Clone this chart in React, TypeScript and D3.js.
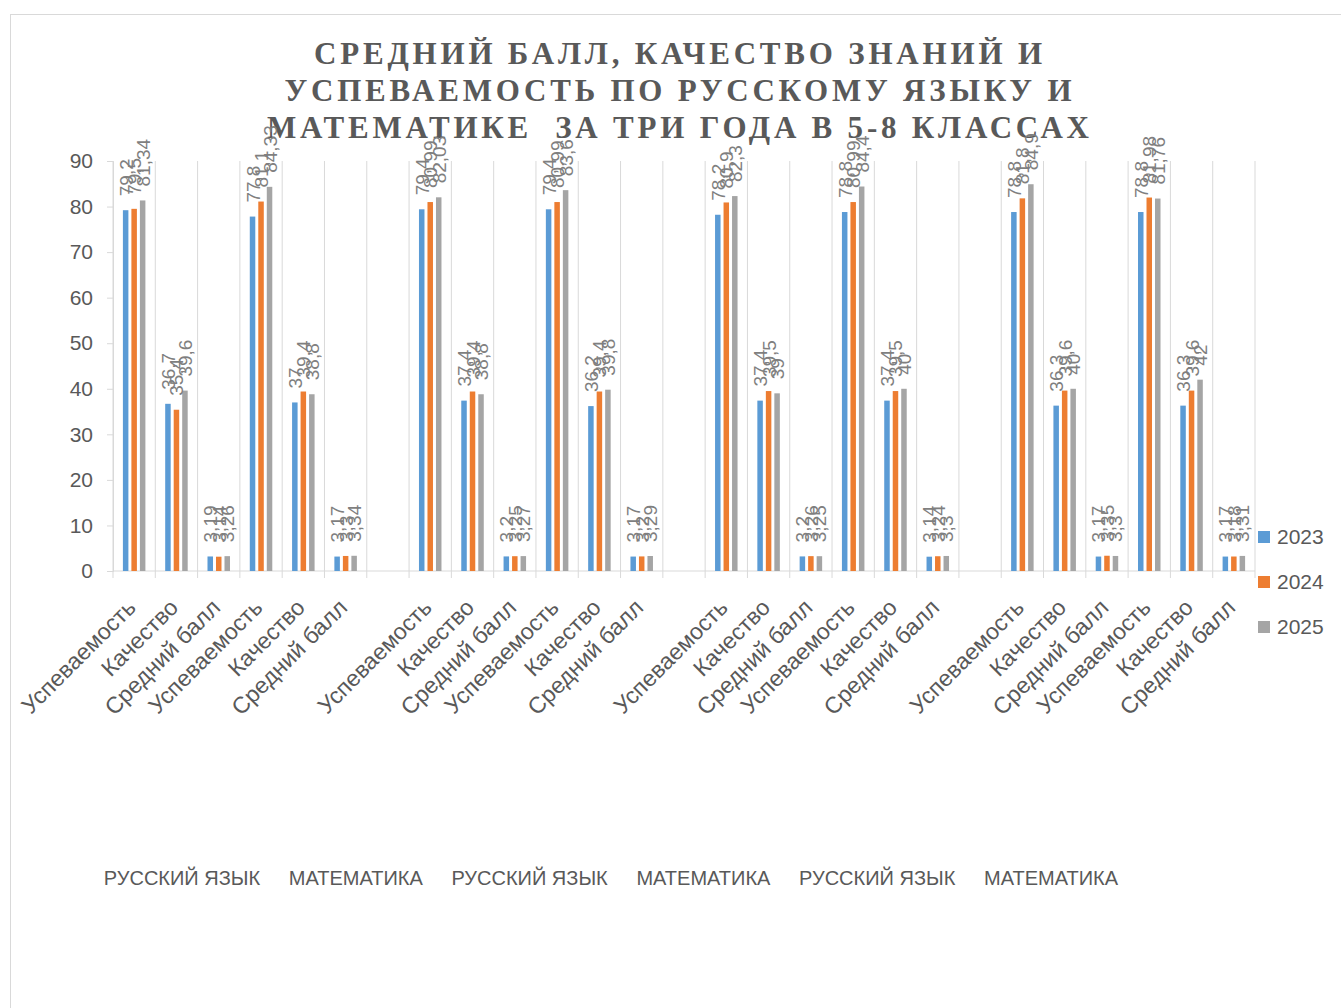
import { useEffect, useRef } from 'react'
import * as d3 from 'd3'

const years = ['2023', '2024', '2025']
const colors = ['#5b9bd5', '#ed7d31', '#a5a5a5']

const metrics = ['Успеваемость', 'Качество', 'Средний балл']
const groupLabels = ['РУССКИЙ ЯЗЫК', 'МАТЕМАТИКА', 'РУССКИЙ ЯЗЫК', 'МАТЕМАТИКА', 'РУССКИЙ ЯЗЫК', 'МАТЕМАТИКА']
const titleLines = [
  'СРЕДНИЙ БАЛЛ, КАЧЕСТВО ЗНАНИЙ И',
  'УСПЕВАЕМОСТЬ ПО РУССКОМУ ЯЗЫКУ И',
  'МАТЕМАТИКЕ  ЗА ТРИ ГОДА В 5-8 КЛАССАХ',
]
const titleWidths = [728, 787, 822]

// 4 blocks x (русский: 3 metrics + математика: 3 metrics)
const values2023 = [79.2, 36.7, 3.19, 77.8, 37, 3.17, 79.4, 37.4, 3.2, 79.4, 36.2, 3.17, 78.2, 37.4, 3.2, 78.8, 37.4, 3.14, 78.8, 36.3, 3.17, 78.8, 36.3, 3.17]
const values2024 = [79.5, 35.4, 3.14, 81.1, 39.4, 3.3, 80.99, 39.4, 3.25, 80.99, 39.4, 3.2, 80.9, 39.5, 3.26, 80.99, 39.5, 3.24, 81.8, 39.6, 3.35, 81.98, 39.6, 3.18]
const values2025 = [81.34, 39.6, 3.26, 84.33, 38.8, 3.34, 82.03, 38.8, 3.27, 83.6, 39.8, 3.29, 82.3, 39, 3.25, 84.4, 40, 3.3, 84.9, 40, 3.3, 81.76, 42, 3.31]
const yTicks = [0, 10, 20, 30, 40, 50, 60, 70, 80, 90]

const series = [values2023, values2024, values2025]
const blocks = 4
const perBlock = 6

// slot list: 6 categories per block, an empty slot between blocks
const slots: { id: string; idx: number | null }[] = []
for (let b = 0; b < blocks; b++) {
  for (let k = 0; k < perBlock; k++) slots.push({ id: `s${b}-${k}`, idx: b * perBlock + k })
  if (b < blocks - 1) slots.push({ id: `gap${b}`, idx: null })
}

const fmt = (v: number) => String(v).replace('.', ',')
const font = 'Liberation Sans, Arial, sans-serif'
const textColor = '#595959'

export default function App() {
  const yAxisRef = useRef<SVGGElement>(null)

  const left = 113
  const right = 1255
  const top = 161
  const bottom = 571

  const x = d3.scaleBand().domain(slots.map(s => s.id)).range([left, right]).padding(0)
  const bw = x.bandwidth()
  const inner = d3.scaleBand().domain(years).range([bw / 2 - 12.75, bw / 2 + 12.75]).padding(0)
  const barW = 5.5
  const y = d3.scaleLinear().domain([0, 90]).range([bottom, top])

  const groupX = d3.scalePoint().domain(groupLabels.map((_, i) => String(i))).range([182, 1051])

  useEffect(() => {
    const g = d3.select(yAxisRef.current)
    g.selectAll('*').remove()
    g.call(d3.axisLeft(y).tickValues(yTicks).tickSize(6).tickPadding(14).tickFormat(d => String(d)))
    g.select('.domain').attr('stroke', '#d9d9d9')
    g.selectAll('.tick line').attr('stroke', '#d9d9d9')
    g.selectAll('.tick text')
      .attr('fill', textColor)
      .style('font-family', font)
      .style('font-size', '21px')
  }, [])

  const boundaries = slots.map(s => x(s.id) as number).concat([right])

  return (
    <svg width={1341} height={1008} style={{ position: 'absolute', left: 0, top: 0, background: '#fff' }}>
      <rect x={10.5} y={14.5} width={1400} height={1100} fill="#fff" stroke="#d9d9d9" />

      {titleLines.map((t, i) => (
        <text key={i} x={678} y={64 + i * 37} textAnchor="middle"
          fontFamily="Liberation Serif, Times New Roman, serif" fontWeight="bold" fontSize={31}
          textLength={titleWidths[i]} lengthAdjust="spacing"
          fill={textColor} style={{ whiteSpace: 'pre' }}>{t}</text>
      ))}

      {/* vertical gridlines at category borders + tick marks */}
      {boundaries.map((bx, i) => (
        <line key={i} x1={bx} x2={bx} y1={top} y2={bottom + 7} stroke="#d9d9d9" />
      ))}
      <line x1={left} x2={right} y1={bottom} y2={bottom} stroke="#d9d9d9" />

      <g ref={yAxisRef} transform={`translate(${left},0)`} />

      {/* bars */}
      {slots.filter(s => s.idx !== null).map(s => (
        <g key={s.id} transform={`translate(${x(s.id)},0)`}>
          {years.map((yr, si) => {
            const v = series[si][s.idx as number]
            const bx = (inner(yr) as number) + (inner.bandwidth() - barW) / 2
            return <rect key={yr} x={bx} y={y(v)} width={barW} height={bottom - y(v)} fill={colors[si]} />
          })}
        </g>
      ))}

      {/* data labels */}
      {slots.filter(s => s.idx !== null).map(s => (
        <g key={'l' + s.id} transform={`translate(${x(s.id)},0)`}>
          {years.map((yr, si) => {
            const v = series[si][s.idx as number]
            const cx = (inner(yr) as number) + inner.bandwidth() / 2 + 7
            const ty = y(v) - 14
            return (
              <text key={yr} transform={`translate(${cx},${ty}) rotate(-90)`} fontFamily={font} fontSize={19}
                fill="#7f7f7f">{fmt(v)}</text>
            )
          })}
        </g>
      ))}

      {/* category labels */}
      {slots.filter(s => s.idx !== null).map(s => (
        <text key={'c' + s.id}
          transform={`translate(${(x(s.id) as number) + bw / 2 + 3},${bottom + 38}) rotate(-45)`}
          textAnchor="end" fontFamily={font} fontSize={23} fill={textColor}>
          {metrics[(s.idx as number) % 3]}
        </text>
      ))}

      {/* group labels */}
      {groupLabels.map((t, i) => (
        <text key={'g' + i} x={groupX(String(i))} y={885} textAnchor="middle" fontFamily={font}
          fontSize={20} fill={textColor}>{t}</text>
      ))}

      {/* legend */}
      {years.map((yr, i) => (
        <g key={'lg' + yr} transform={`translate(1258,${531 + i * 45})`}>
          <rect width={12} height={12} fill={colors[i]} />
          <text x={19} y={13} fontFamily={font} fontSize={21} fill={textColor}>{yr}</text>
        </g>
      ))}
    </svg>
  )
}
